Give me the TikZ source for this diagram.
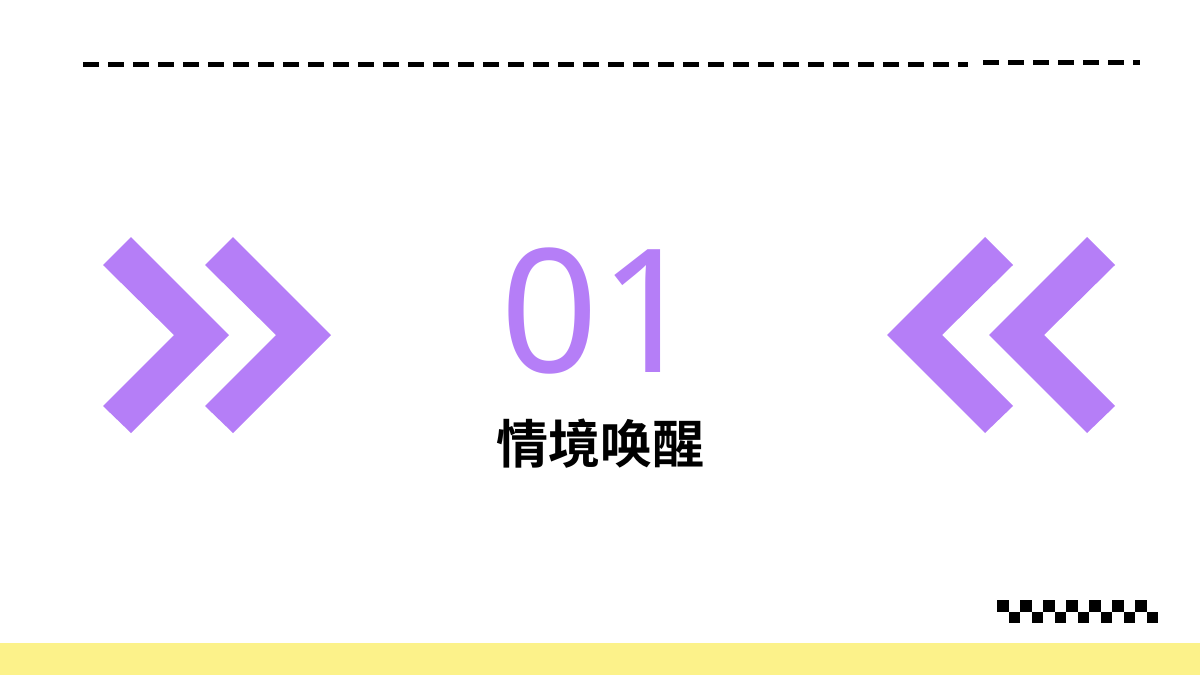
\documentclass[tikz,border=0pt]{standalone}
\usepackage{fontspec}
\newfontfamily\cjk{Noto Sans CJK SC}
\newfontfamily\cjkbold{Noto Sans CJK SC Bold}
\newfontfamily\numfont{Noto Sans}
\definecolor{viola}{RGB}{181,126,247}
\definecolor{giallo}{RGB}{252,242,138}
\tikzset{
	chevron/.style={fill=viola,draw=none},
	dash line/.style={line width=5pt,dash pattern=on 16pt off 9pt},
	checker/.style={fill=black},
}
\begin{document}
\begin{tikzpicture}[x=1pt,y=-1pt]
	\useasboundingbox (0,0) rectangle (1200,675);
	% top dashed lines
	\coordinate (dA) at (83,64);
	\coordinate (dB) at (968,64);
	\coordinate (dC) at (983,62);
	\coordinate (dD) at (1140,62);
	\draw[dash line] (dA) -- (dB);
	\draw[dash line] (dC) -- (dD);
	% chevrons
	\foreach \dx in {0,102}{
		\fill[chevron,xshift=\dx] (103,265) -- (131,237) -- (229,335) -- (131,433) -- (103,406) -- (174,335) -- cycle;
		\fill[chevron,xshift=-\dx] (1115,265) -- (1087,237) -- (989,335) -- (1087,433) -- (1115,406) -- (1044,335) -- cycle;
	}
	% title
	\node[text=viola,inner sep=0pt,font={\numfont\fontsize{172}{172}\selectfont}] (num) at (599,311) {01};
	\node[font={\cjkbold\fontsize{52}{52}\selectfont}] (title) at (600,444) {情境唤醒};
	% checker pattern
	\foreach \k in {0,...,6}{
		\fill[checker] (997+23*\k,600) rectangle +(11.5,11.5);
		\fill[checker] (1008.5+23*\k,611.5) rectangle +(11.5,11.5);
	}
	% bottom band
	\fill[giallo] (0,643) rectangle (1200,675);
\end{tikzpicture}
\end{document}
